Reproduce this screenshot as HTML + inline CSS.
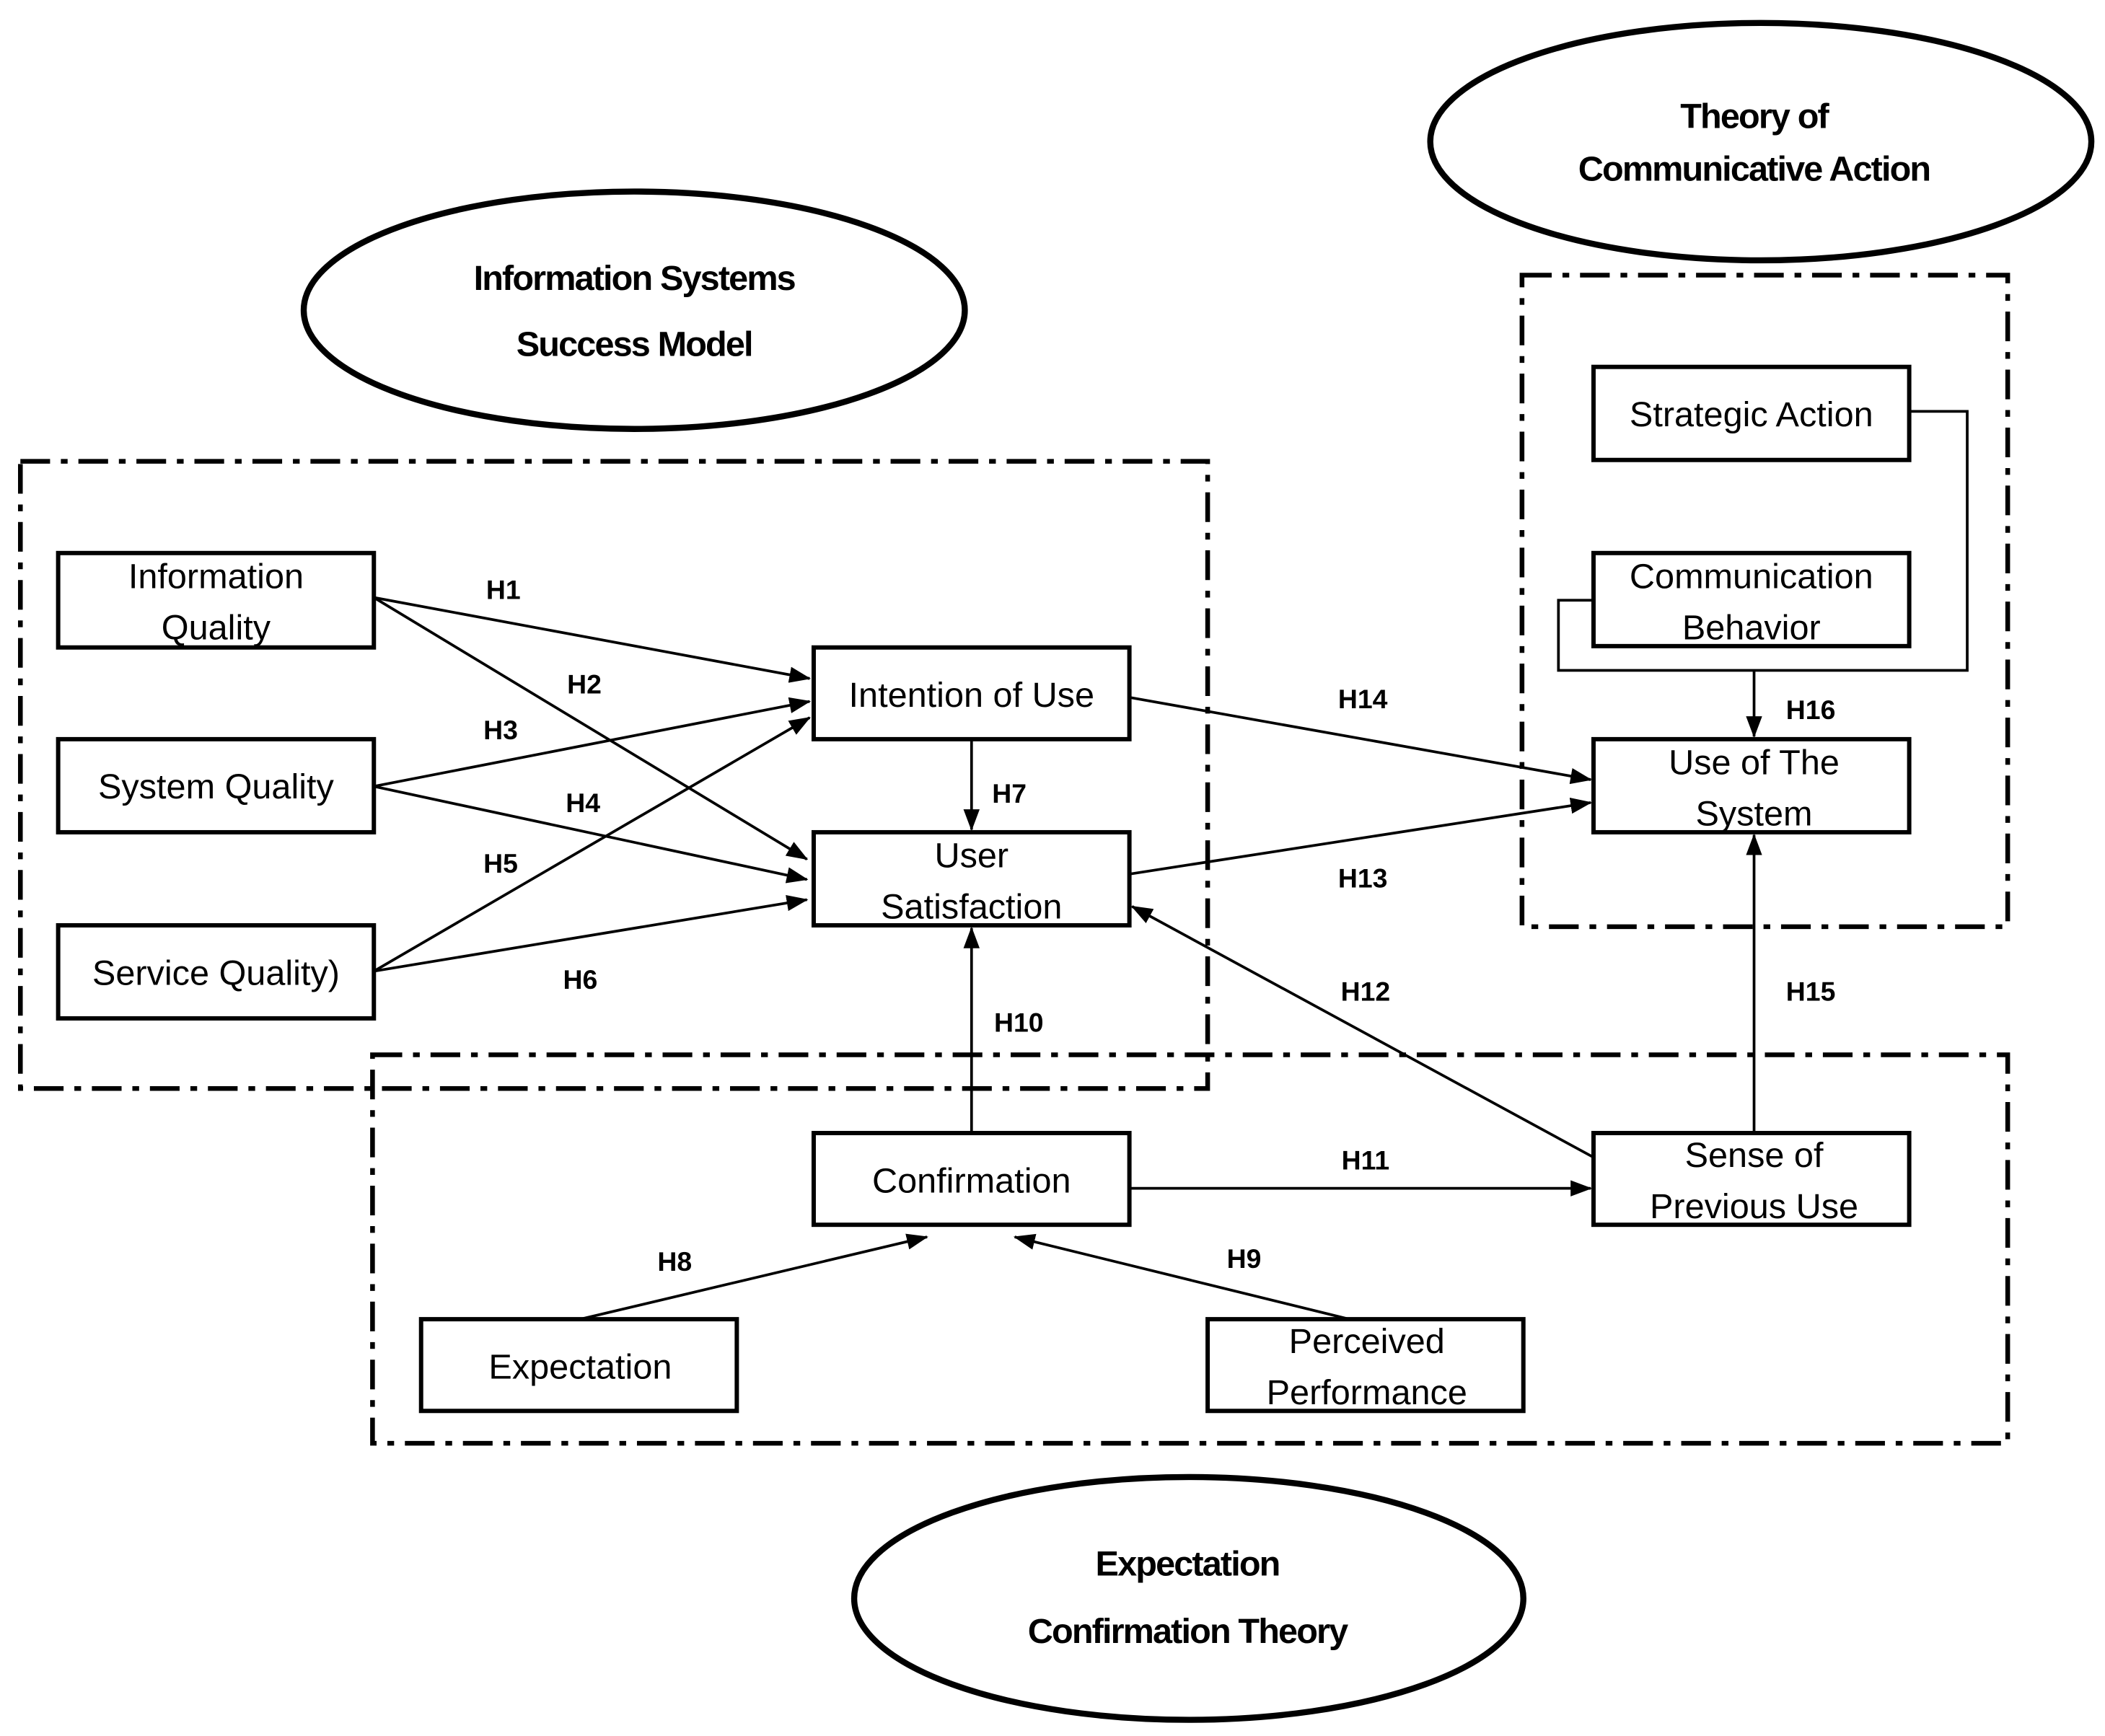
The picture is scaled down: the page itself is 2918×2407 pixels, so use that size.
<!DOCTYPE html>
<html><head><meta charset="utf-8"><style>
html,body{margin:0;padding:0;background:#fff;}
svg{display:block;}
.box{fill:#fff;stroke:#000;stroke-width:3.2;}
.t{font-family:"Liberation Sans",sans-serif;font-size:26px;fill:#000;text-anchor:middle;}
.h{font-family:"Liberation Sans",sans-serif;font-size:20px;font-weight:bold;fill:#000;text-anchor:middle;}
.e{font-family:"Liberation Sans",sans-serif;font-size:26px;font-weight:bold;fill:#000;text-anchor:middle;letter-spacing:-1px;}
.dd{fill:none;stroke:#000;stroke-width:3.5;stroke-dasharray:22 8 5 8;}
.a{stroke:#000;stroke-width:2;fill:none;marker-end:url(#ar);}
.l{stroke:#000;stroke-width:2;fill:none;}
</style></head><body>
<svg width="2918" height="2407" viewBox="0 0 1560 1287" xmlns="http://www.w3.org/2000/svg">
<defs><marker id="ar" markerWidth="16" markerHeight="12" refX="15" refY="6" orient="auto" markerUnits="userSpaceOnUse" viewBox="0 0 16 12"><path d="M0,0 L16,6 L0,12 z" fill="#000"/></marker></defs>
<rect width="1560" height="1287" fill="#fff"/>
<ellipse cx="470" cy="230" rx="245" ry="88" fill="none" stroke="#000" stroke-width="4.5"/>
<text class="e" x="470" y="215">Information Systems</text>
<text class="e" x="470" y="264">Success Model</text>
<ellipse cx="1305" cy="105" rx="245" ry="88" fill="none" stroke="#000" stroke-width="4.5"/>
<text class="e" x="1300" y="95">Theory of</text>
<text class="e" x="1300" y="134">Communicative Action</text>
<ellipse cx="881" cy="1185" rx="248" ry="90" fill="none" stroke="#000" stroke-width="4.5"/>
<text class="e" x="880" y="1168">Expectation</text>
<text class="e" x="880" y="1218">Confirmation Theory</text>
<rect class="dd" x="15" y="342" width="880" height="465"/>
<rect class="dd" x="1128" y="204" width="360" height="483"/>
<rect class="dd" x="276" y="782" width="1212" height="288"/>
<line class="a" x1="277" y1="443" x2="600" y2="503"/>
<line class="a" x1="277" y1="443" x2="598" y2="637"/>
<line class="a" x1="277" y1="583" x2="600" y2="520"/>
<line class="a" x1="277" y1="583" x2="598" y2="652"/>
<line class="a" x1="277" y1="720" x2="600" y2="532"/>
<line class="a" x1="277" y1="720" x2="598" y2="667"/>
<line class="a" x1="720" y1="548" x2="720" y2="615"/>
<line class="a" x1="430" y1="978" x2="687" y2="917"/>
<line class="a" x1="1000" y1="978" x2="752" y2="917"/>
<line class="a" x1="720" y1="840" x2="720" y2="688"/>
<line class="a" x1="837" y1="881" x2="1179" y2="881"/>
<line class="a" x1="1181" y1="858" x2="839" y2="672"/>
<line class="a" x1="837" y1="648" x2="1179" y2="595"/>
<line class="a" x1="837" y1="517" x2="1179" y2="578"/>
<line class="a" x1="1300" y1="840" x2="1300" y2="619"/>
<polyline class="l" points="1415,305 1458,305 1458,497 1155,497 1155,445 1181,445"/>
<line class="a" x1="1300" y1="497" x2="1300" y2="546"/>
<rect class="box" x="43" y="410" width="234" height="70"/>
<text class="t" x="160" y="436">Information</text><text class="t" x="160" y="474">Quality</text>
<rect class="box" x="43" y="548" width="234" height="69"/>
<text class="t" x="160" y="592">System Quality</text>
<rect class="box" x="43" y="686" width="234" height="69"/>
<text class="t" x="160" y="730">Service Quality)</text>
<rect class="box" x="603" y="480" width="234" height="68"/>
<text class="t" x="720" y="524">Intention of Use</text>
<rect class="box" x="603" y="617" width="234" height="69"/>
<text class="t" x="720" y="643">User</text><text class="t" x="720" y="681">Satisfaction</text>
<rect class="box" x="1181" y="272" width="234" height="69"/>
<text class="t" x="1298" y="316">Strategic Action</text>
<rect class="box" x="1181" y="410" width="234" height="69"/>
<text class="t" x="1298" y="436">Communication</text><text class="t" x="1298" y="474">Behavior</text>
<rect class="box" x="1181" y="548" width="234" height="69"/>
<text class="t" x="1300" y="574">Use of The</text><text class="t" x="1300" y="612">System</text>
<rect class="box" x="603" y="840" width="234" height="68"/>
<text class="t" x="720" y="884">Confirmation</text>
<rect class="box" x="1181" y="840" width="234" height="68"/>
<text class="t" x="1300" y="865">Sense of</text><text class="t" x="1300" y="903">Previous Use</text>
<rect class="box" x="312" y="978" width="234" height="68"/>
<text class="t" x="430" y="1022">Expectation</text>
<rect class="box" x="895" y="978" width="234" height="68"/>
<text class="t" x="1013" y="1003">Perceived</text><text class="t" x="1013" y="1041">Performance</text>
<text class="h" x="373" y="444">H1</text>
<text class="h" x="433" y="514">H2</text>
<text class="h" x="371" y="548">H3</text>
<text class="h" x="432" y="602">H4</text>
<text class="h" x="371" y="647">H5</text>
<text class="h" x="430" y="733">H6</text>
<text class="h" x="748" y="595">H7</text>
<text class="h" x="500" y="942">H8</text>
<text class="h" x="922" y="940">H9</text>
<text class="h" x="755" y="765">H10</text>
<text class="h" x="1012" y="867">H11</text>
<text class="h" x="1012" y="742">H12</text>
<text class="h" x="1010" y="658">H13</text>
<text class="h" x="1010" y="525">H14</text>
<text class="h" x="1342" y="742">H15</text>
<text class="h" x="1342" y="533">H16</text>
</svg>
</body></html>
